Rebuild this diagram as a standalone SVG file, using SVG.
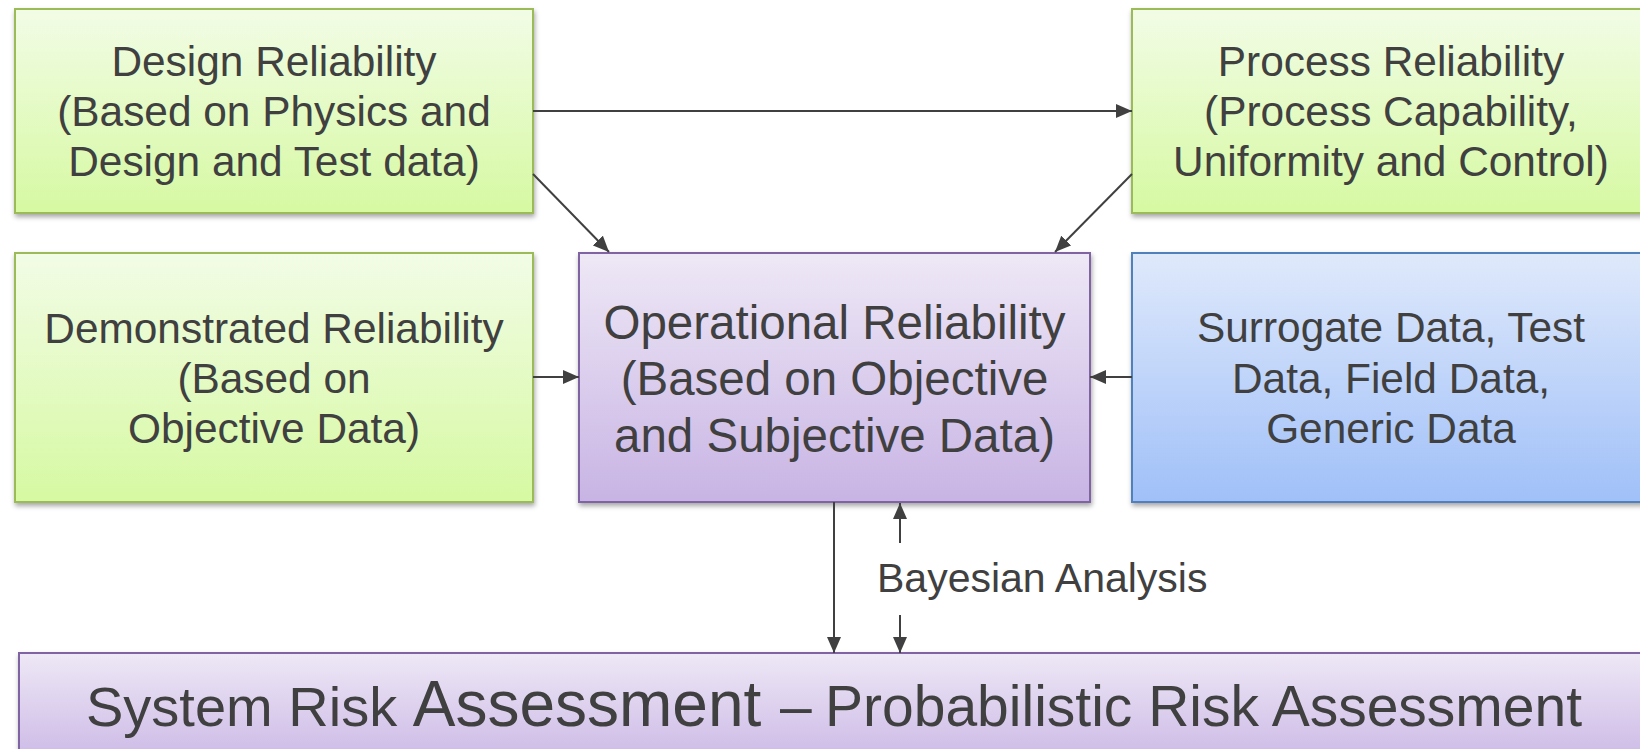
<svg xmlns="http://www.w3.org/2000/svg" width="1640" height="749" viewBox="0 0 1640 749">
  <defs>
    <linearGradient id="gGreen" x1="0" y1="0" x2="0" y2="1">
      <stop offset="0" stop-color="#f2fce6"/>
      <stop offset="1" stop-color="#d6f9a2"/>
    </linearGradient>
    <linearGradient id="gPurple" x1="0" y1="0" x2="0" y2="1">
      <stop offset="0" stop-color="#eee8f6"/>
      <stop offset="1" stop-color="#c8b4e4"/>
    </linearGradient>
    <linearGradient id="gBlue" x1="0" y1="0" x2="0" y2="1">
      <stop offset="0" stop-color="#dfe9fb"/>
      <stop offset="1" stop-color="#a0c0f8"/>
    </linearGradient>
    <filter id="shadow" x="-5%" y="-5%" width="110%" height="115%">
      <feDropShadow dx="1" dy="3" stdDeviation="2.5" flood-color="#000" flood-opacity="0.35"/>
    </filter>
    <marker id="arrow" markerUnits="userSpaceOnUse" markerWidth="16" markerHeight="14" refX="16" refY="7" orient="auto">
      <path d="M0,0 L16,7 L0,14 Z" fill="#404040"/>
    </marker>
  </defs>
  <style>
    .green { fill: url(#gGreen); stroke: #9bbb59; stroke-width: 2; filter: url(#shadow); }
    .purple { fill: url(#gPurple); stroke: #8064a2; stroke-width: 2; filter: url(#shadow); }
    .blue { fill: url(#gBlue); stroke: #4f81bd; stroke-width: 2; filter: url(#shadow); }
    text { font-family: "Liberation Sans", Arial, sans-serif; fill: #404040; }
    .t42 { font-size: 42.4px; text-anchor: middle; }
    .t48 { font-size: 47.5px; text-anchor: middle; }
    .conn line { stroke: #404040; stroke-width: 2; marker-end: url(#arrow); }
  </style>

  <rect width="1640" height="749" fill="#ffffff"/>

  <g id="design-reliability">
    <rect class="green" x="15" y="9" width="518" height="204"/>
    <text class="t42" x="274" y="76">Design Reliability</text>
    <text class="t42" x="274" y="126">(Based on Physics and</text>
    <text class="t42" x="274" y="176">Design and Test data)</text>
  </g>

  <g id="process-reliability">
    <rect class="green" x="1132" y="9" width="518" height="204"/>
    <text class="t42" x="1391" y="76">Process Reliability</text>
    <text class="t42" x="1391" y="126">(Process Capability,</text>
    <text class="t42" x="1391" y="176">Uniformity and Control)</text>
  </g>

  <g id="demonstrated-reliability">
    <rect class="green" x="15" y="253" width="518" height="249"/>
    <text class="t42" x="274" y="343">Demonstrated Reliability</text>
    <text class="t42" x="274" y="393">(Based on</text>
    <text class="t42" x="274" y="443">Objective Data)</text>
  </g>

  <g id="operational-reliability">
    <rect class="purple" x="579" y="253" width="511" height="249"/>
    <text class="t48" x="834.5" y="338.5">Operational Reliability</text>
    <text class="t48" x="834.5" y="395">(Based on Objective</text>
    <text class="t48" x="834.5" y="451.5">and Subjective Data)</text>
  </g>

  <g id="data-sources">
    <rect class="blue" x="1132" y="253" width="518" height="249"/>
    <text class="t42" x="1391" y="342">Surrogate Data, Test</text>
    <text class="t42" x="1391" y="393">Data, Field Data,</text>
    <text class="t42" x="1391" y="443">Generic Data</text>
  </g>

  <g id="system-risk-assessment">
    <rect class="purple" x="19" y="653" width="1640" height="120"/>
    <text x="86" y="726" style="font-size:56px">System Risk <tspan style="font-size:64px">Assessment</tspan><tspan x="780" style="font-size:57px">–</tspan><tspan x="825" style="font-size:57px">Probabilistic Risk Assessment</tspan></text>
  </g>

  <g id="connectors" class="conn">
    <line x1="533" y1="111" x2="1132" y2="111"/>
    <line x1="533" y1="174" x2="609" y2="252"/>
    <line x1="1132" y1="174" x2="1055" y2="252"/>
    <line x1="533" y1="377" x2="579" y2="377"/>
    <line x1="1132" y1="377" x2="1090" y2="377"/>
    <line x1="834" y1="502" x2="834" y2="653"/>
    <line x1="900" y1="543" x2="900" y2="503"/>
    <line x1="900" y1="615" x2="900" y2="653"/>
  </g>

  <g id="bayesian-label">
    <text x="877" y="592" style="font-size:41px">Bayesian Analysis</text>
  </g>
</svg>
